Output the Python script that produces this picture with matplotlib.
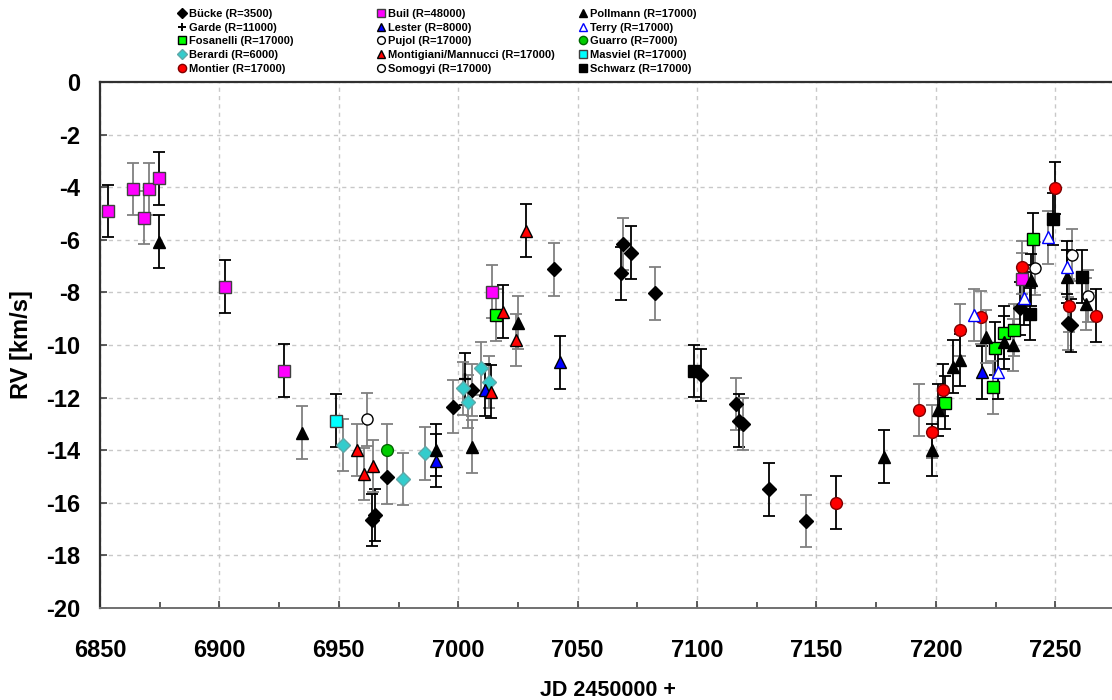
import numpy as np
import matplotlib
matplotlib.use('Agg')
import matplotlib.pyplot as plt
from matplotlib.lines import Line2D
from matplotlib.ticker import MultipleLocator

plt.rcParams['font.family'] = ['Liberation Sans', 'DejaVu Sans']
plt.rcParams['axes.unicode_minus'] = False

# --- data (JD - 2450000, RV km/s, error) ---
bucke_x = [6963.8, 6965.2, 6970.3, 6997.6, 7005.6, 7040.2, 7068.8, 7068.2, 7072.4, 7082.4,
           7101.5, 7116.3, 7117.7, 7119.4, 7130.3, 7145.5, 7235.3, 7255.2, 7256.5]
bucke_y = [-16.65, -16.46, -15.03, -12.34, -11.71, -7.12, -6.16, -7.27, -6.49, -8.04,
           -11.14, -12.24, -12.88, -13.0, -15.49, -16.69, -8.61, -9.18, -9.25]
bucke_e = [1.0] * len(bucke_x)

garde_x = [7003.0]
garde_y = [-11.3]
garde_e = [1.0]

fosanelli_x = [7015.8, 7203.8, 7224.8, 7224.1, 7228.7, 7232.9, 7240.8]
fosanelli_y = [-8.86, -12.19, -10.13, -11.61, -9.53, -9.43, -5.97]
fosanelli_e = [1.0] * len(fosanelli_x)

berardi_x = [6951.6, 6976.7, 6986.2, 7001.8, 7004.2, 7009.4, 7013.0]
berardi_y = [-13.8, -15.1, -14.12, -11.65, -12.15, -10.89, -11.4]
berardi_e = [1.0] * len(berardi_x)

montier_x = [7158.0, 7193.0, 7198.5, 7203.1, 7210.1, 7218.9, 7235.9, 7249.9, 7255.8, 7266.9]
montier_y = [-15.99, -12.47, -13.3, -11.71, -9.43, -8.95, -7.05, -4.03, -8.5, -8.88]
montier_e = [1.0] * len(montier_x)

buil_x = [6853.5, 6863.7, 6868.6, 6870.6, 6874.7, 6902.3, 6927.0, 7014.0, 7235.9]
buil_y = [-4.9, -4.07, -5.16, -4.07, -3.66, -7.78, -10.98, -7.97, -7.49]
buil_e = [1.0] * len(buil_x)

lester_x = [6990.5, 7011.2, 7042.6, 7219.2]
lester_y = [-14.4, -11.71, -10.66, -11.04]
lester_e = [1.0] * len(lester_x)

pujol_x = [7241.3, 7263.8]
pujol_y = [-7.08, -8.14]
pujol_e = [1.0, 1.0]

montigiani_x = [6957.5, 6960.5, 6964.5, 7013.6, 7018.6, 7024.2, 7028.4]
montigiani_y = [-13.99, -14.9, -14.6, -11.77, -8.73, -9.81, -5.65]
montigiani_e = [1.0] * len(montigiani_x)

somogyi_x = [6961.7, 7256.9]
somogyi_y = [-12.83, -6.58]
somogyi_e = [1.0, 1.0]

pollmann_x = [6874.7, 6934.4, 6990.5, 7005.6, 7025.2, 7178.3, 7198.3, 7201.0, 7207.3, 7210.1,
              7221.0, 7228.7, 7232.4, 7240.0, 7255.0, 7262.7]
pollmann_y = [-6.07, -13.33, -13.99, -13.87, -9.15, -14.24, -13.99, -12.47, -10.82, -10.57,
              -9.68, -9.9, -10.0, -7.53, -7.4, -8.44]
pollmann_e = [1.0] * len(pollmann_x)

terry_x = [7216.0, 7226.2, 7236.9, 7246.8, 7255.0]
terry_y = [-8.86, -11.04, -8.23, -5.91, -7.05]
terry_e = [1.0] * len(terry_x)

guarro_x = [6970.0]
guarro_y = [-14.0]
guarro_e = [1.0]

masviel_x = [6949.0]
masviel_y = [-12.88]
masviel_e = [1.0]

schwarz_x = [7098.9, 7239.2, 7249.2, 7261.1]
schwarz_y = [-10.99, -8.82, -5.21, -7.4]
schwarz_e = [1.0] * len(schwarz_x)

# name, x, y, err, marker, face, edge, size, errorbar colour ('k' black / 'g' grey)
series = [
    ('Bücke (R=3500)', bucke_x, bucke_y, bucke_e, 'D', 'black', 'black', 7.5,
     'kkgggggkkgkgkgkgkgk'),
    ('Garde (R=11000)', garde_x, garde_y, garde_e, '+', 'black', 'black', 9, 'k'),
    ('Fosanelli (R=17000)', fosanelli_x, fosanelli_y, fosanelli_e, 's', '#00ff00', 'black', 9,
     'gkkgkgk'),
    ('Berardi (R=6000)', berardi_x, berardi_y, berardi_e, 'D', '#33cccc', '#5fa8a8', 7.5,
     'ggggggg'),
    ('Montier (R=17000)', montier_x, montier_y, montier_e, 'o', '#ff0000', '#800000', 8.5,
     'kggkgggkgk'),
    ('Buil (R=48000)', buil_x, buil_y, buil_e, 's', '#ff00ff', '#404040', 9, 'kgggkkkgg'),
    ('Lester (R=8000)', lester_x, lester_y, lester_e, '^', '#0000ff', 'black', 9, 'kkkk'),
    ('Pujol (R=17000)', pujol_x, pujol_y, pujol_e, 'o', 'white', 'black', 8, 'gg'),
    ('Montigiani/Mannucci (R=17000)', montigiani_x, montigiani_y, montigiani_e, '^', '#ff0000',
     'black', 9, 'gggkkgk'),
    ('Somogyi (R=17000)', somogyi_x, somogyi_y, somogyi_e, 'o', 'white', 'black', 8, 'gg'),
    ('Pollmann (R=17000)', pollmann_x, pollmann_y, pollmann_e, '^', 'black', 'black', 9,
     'kgkggkkkkkgkgkkg'),
    ('Terry (R=17000)', terry_x, terry_y, terry_e, '^', 'white', '#0000ff', 9, 'gkkgk'),
    ('Guarro (R=7000)', guarro_x, guarro_y, guarro_e, 'o', '#00cc00', '#006600', 8.5, 'g'),
    ('Masviel (R=17000)', masviel_x, masviel_y, masviel_e, 's', '#00ffff', '#404040', 9, 'k'),
    ('Schwarz (R=17000)', schwarz_x, schwarz_y, schwarz_e, 's', 'black', 'black', 9, 'kkkk'),
]

fig = plt.figure(figsize=(11.12, 7.0), dpi=100)
ax = fig.add_axes([100 / 1112, 92 / 700, 1015 / 1112, 526 / 700])

ecolors = {'k': 'black', 'g': '#808080'}
for name, x, y, e, m, fc, ec, ms, ecs in series:
    for xi, yi, ei, c in zip(x, y, e, ecs):
        ax.errorbar(xi, yi, yerr=ei, fmt='none', ecolor=ecolors[c], elinewidth=1.3,
                    capsize=4, capthick=1.3, zorder=2)
    ax.plot(x, y, linestyle='none', marker=m, markerfacecolor=fc, markeredgecolor=ec,
            markersize=ms, markeredgewidth=1.0 if m != '+' else 1.6, color=fc, zorder=3)

ax.set_xlim(6850, 7275)
ax.set_ylim(-20, 0)
ax.xaxis.set_major_locator(MultipleLocator(50))
ax.xaxis.set_minor_locator(MultipleLocator(25))
ax.yaxis.set_major_locator(MultipleLocator(2))
ax.grid(True, which='major', color='#c8c8c8', linestyle=(0, (3, 3)), linewidth=1.0)
ax.set_axisbelow(True)

ax.tick_params(axis='both', which='major', direction='in', length=5, width=1.2,
               labelsize=17, color='#404040')
ax.tick_params(axis='x', which='major', pad=22)
ax.tick_params(axis='y', which='major', pad=14)
ax.tick_params(axis='x', which='minor', direction='in', length=4, width=1.2, color='#404040')
ax.tick_params(top=False, right=False)
for lab in ax.get_xticklabels() + ax.get_yticklabels():
    lab.set_fontweight('bold')

for s in ['top', 'left']:
    ax.spines[s].set_linewidth(1.6)
    ax.spines[s].set_color('#303030')
ax.spines['bottom'].set_linewidth(1.4)
ax.spines['bottom'].set_color('#707070')
ax.spines['right'].set_visible(False)

ax.set_xlabel('JD 2450000 +', fontsize=15.5, fontweight='bold', labelpad=13)
ax.set_ylabel('RV [km/s]', fontsize=17, fontweight='bold')
ax.yaxis.set_label_coords(-0.066, 0.5)

# legend: three columns
handles = []
for name, x, y, e, m, fc, ec, ms, ecs in series:
    handles.append(Line2D([], [], linestyle='none', marker=m, markerfacecolor=fc,
                          markeredgecolor=ec, markersize=ms * 0.7, color=fc,
                          markeredgewidth=1.0 if m != '+' else 1.4, label=name))

col_left = [179, 378, 580]
for i in range(3):
    hs = handles[i * 5:(i + 1) * 5]
    leg = fig.legend(handles=hs, loc='upper left',
                     bbox_to_anchor=(col_left[i] / 1112, 1 - 9 / 700),
                     frameon=False, handlelength=0.6, handletextpad=0.3,
                     labelspacing=0.33, borderpad=0, borderaxespad=0,
                     prop={'weight': 'bold', 'size': 8, 'family': ['Liberation Sans']})

fig.savefig('out.png', dpi=100)
